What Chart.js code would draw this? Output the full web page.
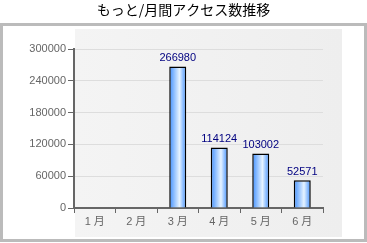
<!DOCTYPE html>
<html>
<head>
<meta charset="utf-8">
<script src="https://cdn.jsdelivr.net/npm/chart.js@4"></script>
<style>
  html, body { margin: 0; padding: 0; background: #fff; }
  #wrap { width: 367px; height: 243px; }
</style>
</head>
<body>
<div id="wrap"><canvas id="myChart"></canvas></div>
<script>
// data
const chartTitle = 'もっと/月間アクセス数推移';
const months = ['1 月', '2 月', '3 月', '4 月', '5 月', '6 月'];
const access = [null, null, 266980, 114124, 103002, 52571];
const yTicks = [0, 60000, 120000, 180000, 240000, 300000];

let ctx = document.getElementById('myChart');

// grey frame + light plot background + title centred on the whole picture
const frame_plugin = {
    id: 'frame',
    beforeDraw(chart) {
        let c = chart.ctx, a = chart.chartArea;
        c.save();
        c.fillStyle = '#fff';
        c.fillRect(0, 0, chart.width, chart.height);
        c.strokeStyle = '#bbbbbb';
        c.lineWidth = 3;
        c.strokeRect(1.5, 24.5, chart.width - 3, chart.height - 27);
        let x0 = a.left + 1, x1 = a.right + 19;
        let g = c.createLinearGradient(x0, 0, x1, 0);
        g.addColorStop(0, '#f4f4f4');
        g.addColorStop(1, '#eeeeee');
        c.fillStyle = g;
        c.fillRect(x0, a.top - 20, x1 - x0, a.bottom - a.top + 49);
        c.font = '14px "Noto Sans CJK JP", sans-serif';
        c.fillStyle = '#000';
        c.textAlign = 'center';
        c.textBaseline = 'middle';
        c.fillText(chartTitle, chart.width / 2, 9.5);
        c.restore();
    }
};

// value labels above the bars
const label_plugin = {
    id: 'vlabels',
    afterDatasetsDraw(chart) {
        let c = chart.ctx;
        let meta = chart.getDatasetMeta(0);
        c.save();
        c.font = '11px "Liberation Sans", "DejaVu Sans", sans-serif';
        c.fillStyle = '#000080';
        c.textAlign = 'center';
        c.textBaseline = 'bottom';
        meta.data.forEach((bar, i) => {
            if (access[i] == null) return;
            c.fillText(String(access[i]), bar.x, bar.y - 3);
        });
        c.restore();
    }
};

function barFill(context) {
    let chart = context.chart;
    let xs = chart.scales && chart.scales.x;
    if (!xs || !chart.chartArea) return '#4a9cff';
    let cx = xs.getPixelForValue(context.dataIndex);
    let w = (xs.width / months.length) * 0.41;
    if (!isFinite(cx) || !isFinite(w)) return '#4a9cff';
    let g = chart.ctx.createLinearGradient(cx - w / 2, 0, cx + w / 2, 0);
    g.addColorStop(0, '#3f8fff');
    g.addColorStop(0.6, '#e6f3ff');
    g.addColorStop(1, '#3f8fff');
    return g;
}

const tickFont = { family: '"Liberation Sans", "Noto Sans CJK JP", sans-serif', size: 11 };

new Chart(ctx, {
    type: 'bar',
    data: {
        labels: months,
        datasets: [{
            data: access,
            backgroundColor: barFill,
            borderColor: '#000',
            borderWidth: 1.5,
            categoryPercentage: 1,
            barPercentage: 0.41
        }]
    },
    options: {
        responsive: true,
        maintainAspectRatio: false,
        animation: false,
        layout: { padding: { left: 0, right: 44, top: 49, bottom: 5 } },
        plugins: {
            legend: { display: false },
            tooltip: { enabled: false },
            title: { display: false }
        },
        scales: {
            x: {
                grid: { drawOnChartArea: false, offset: true, tickColor: '#666', tickLength: 5, tickWidth: 1 },
                border: { color: '#666', width: 2 },
                ticks: { color: '#666', font: tickFont, padding: 2 },
                afterFit(scale) { scale.height = 30; }
            },
            y: {
                min: 0,
                max: 300000,
                grid: { color: '#dddddd', tickColor: '#666', tickLength: 6 },
                border: { color: '#666', width: 2 },
                ticks: { color: '#666', font: tickFont, padding: 2, callback: v => String(v) },
                afterBuildTicks(scale) { scale.ticks = yTicks.map(v => ({ value: v })); },
                afterFit(scale) { scale.width = 74; }
            }
        }
    },
    plugins: [frame_plugin, label_plugin]
});
</script>
</body>
</html>
